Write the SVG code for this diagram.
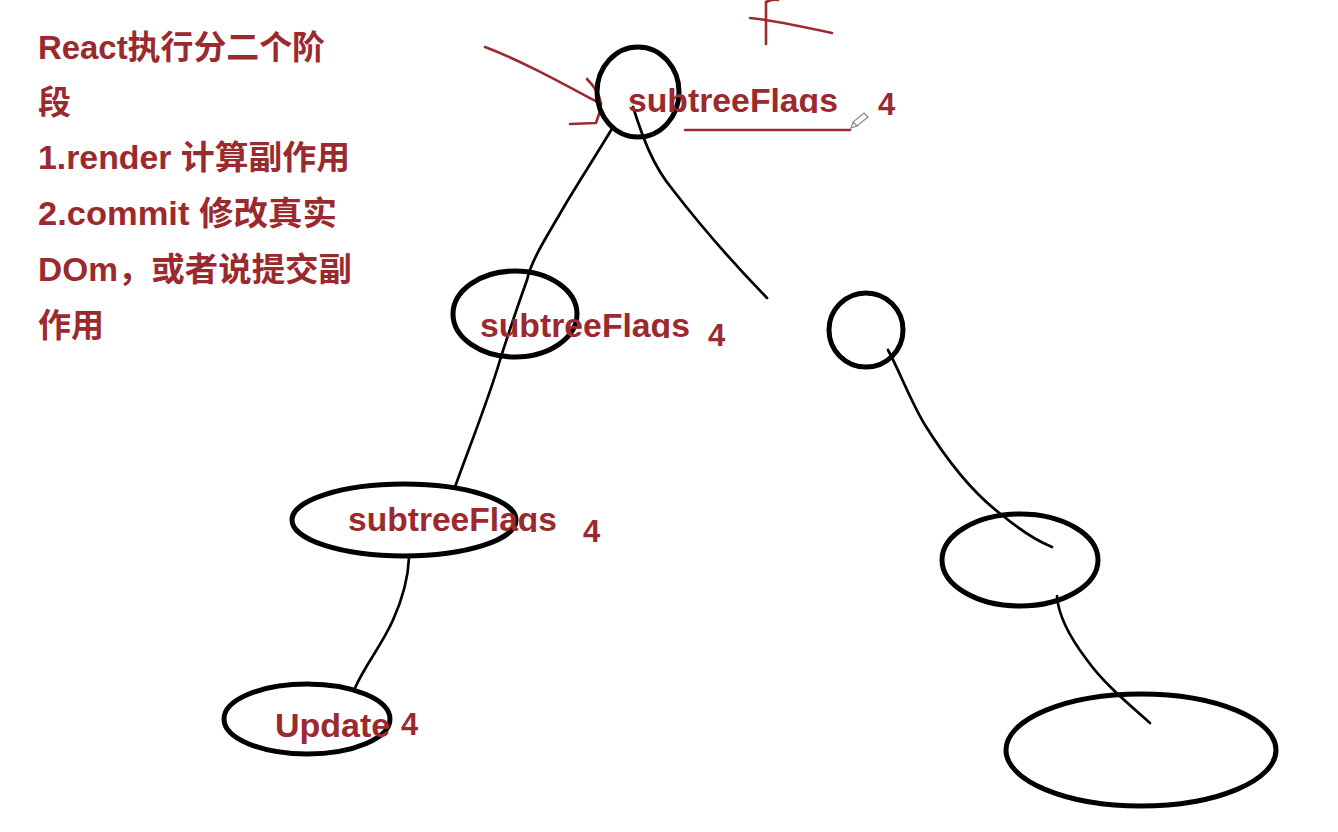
<svg xmlns="http://www.w3.org/2000/svg" width="1338" height="832" viewBox="0 0 1338 832">
<style>
.node{fill:none;stroke:#000;stroke-width:5}
.edge{fill:none;stroke:#000;stroke-width:2.7;stroke-linecap:round}
.ink{fill:none;stroke:#9c2b2f;stroke-width:2.6;stroke-linecap:round;stroke-linejoin:round}
.note{font-family:"Liberation Sans","Noto Sans CJK SC",sans-serif;font-weight:bold;font-size:33px;fill:#9a2a2e}
.lbl{font-family:"Liberation Sans","Noto Sans CJK SC",sans-serif;font-weight:bold;font-size:34px;fill:#9a2a2e}
.num{font-family:"Liberation Sans",sans-serif;font-weight:bold;font-size:31px;fill:#9a2a2e}
</style>
<defs>
<clipPath id="c1"><rect x="600" y="60" width="260" height="53"/></clipPath>
<clipPath id="c2"><rect x="450" y="290" width="260" height="48"/></clipPath>
<clipPath id="c3"><rect x="330" y="480" width="260" height="52"/></clipPath>
</defs>
<rect width="1338" height="832" fill="#fff"/>

<g id="notes">
<text class="note" x="38" y="59" textLength="287" lengthAdjust="spacingAndGlyphs">React执行分二个阶</text>
<text class="note" x="38" y="114">段</text>
<text class="note" x="38" y="169" textLength="312" lengthAdjust="spacingAndGlyphs">1.render 计算副作用</text>
<text class="note" x="38" y="225" textLength="299" lengthAdjust="spacingAndGlyphs">2.commit 修改真实</text>
<text class="note" x="38" y="281" textLength="314" lengthAdjust="spacingAndGlyphs">DOm，或者说提交副</text>
<text class="note" x="38" y="337">作用</text>
</g>

<g id="annotations">
<path class="ink" d="M485,47 C520,60 560,82 601,104"/>
<path class="ink" d="M587,79 C595,87 600,96 601,104 C600,112 598,118 596,123 L570,124"/>
<path class="ink" d="M766,2 C770,0 774,-1 778,0"/>
<path class="ink" d="M766,2 L766,44"/>
<path class="ink" d="M750,18 C770,20 800,26 832,33"/>
<path class="ink" d="M685,130 L850,130"/>
<g id="pencil" fill="none" stroke="#888" stroke-width="1.2">
<path d="M851,128 L853,122 L864,113 L868,117 L857,126 Z"/>
<path d="M853,122 L857,126"/>
</g>
</g>

<g id="connectors">
<path class="edge" d="M613,127 C598,152 580,180 565,205 C548,235 532,258 527,280 C518,305 508,335 500,360 C490,395 472,440 455,487"/>
<path class="edge" d="M633,107 C642,135 652,165 673,190 C700,225 735,265 767,298"/>
<path class="edge" d="M409,558 C408,580 402,600 393,620 C382,645 365,665 355,688"/>
<path class="edge" d="M888,350 C900,372 910,400 925,425 C950,465 975,495 1002,515 C1020,530 1035,540 1052,547"/>
<path class="edge" d="M1057,596 C1058,612 1068,635 1087,660 C1105,685 1130,705 1150,723"/>
</g>

<g id="node-root">
<ellipse class="node" cx="638" cy="92" rx="41" ry="45"/>
<text class="lbl" x="628" y="112" textLength="210" lengthAdjust="spacingAndGlyphs" clip-path="url(#c1)">subtreeFlags</text>
<text class="num" x="878" y="115">4</text>
</g>

<g id="node-left1">
<ellipse class="node" cx="515" cy="314" rx="62" ry="43"/>
<text class="lbl" x="480" y="337" textLength="210" lengthAdjust="spacingAndGlyphs" clip-path="url(#c2)">subtreeFlags</text>
<text class="num" x="708" y="346">4</text>
</g>

<g id="node-left2">
<ellipse class="node" cx="404" cy="520" rx="112" ry="36"/>
<text class="lbl" x="348" y="531" textLength="209" lengthAdjust="spacingAndGlyphs" clip-path="url(#c3)">subtreeFlags</text>
<text class="num" x="583" y="542">4</text>
</g>

<g id="node-left3">
<ellipse class="node" cx="307" cy="719" rx="83" ry="35"/>
<text class="lbl" x="275" y="737">Update</text>
<text class="num" x="401" y="735">4</text>
</g>

<g id="node-right1">
<ellipse class="node" cx="866" cy="330" rx="37" ry="37"/>
</g>

<g id="node-right2">
<ellipse class="node" cx="1020" cy="560" rx="78" ry="46"/>
</g>

<g id="node-right3">
<ellipse class="node" cx="1141" cy="750" rx="135" ry="56"/>
</g>
</svg>
